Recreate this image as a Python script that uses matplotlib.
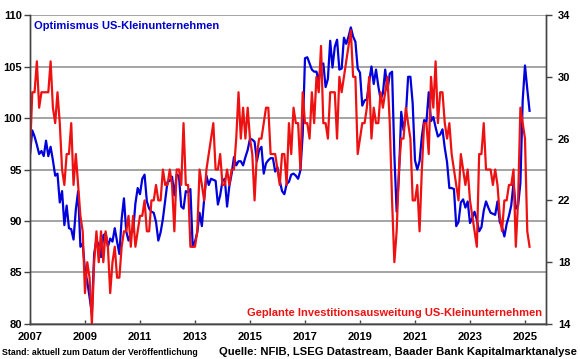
import numpy as np
import pandas as pd
import matplotlib
matplotlib.use("Agg")
import matplotlib.pyplot as plt

plt.rcParams['font.family'] = ['Liberation Sans', 'DejaVu Sans']
plt.rcParams['font.weight'] = 'bold'

# monthly, Dec 2006 .. Feb 2025
months = pd.date_range('2006-12-01', '2025-02-01', freq='MS')

# NFIB small business optimism index (left axis)
optimism = [96.5,
    98.8, 98.2, 97.4, 96.5, 96.8, 96.3, 97.8, 96.3, 97.2, 95.9, 94.4, 94.6,  # 2007
    91.8, 92.9, 89.6, 91.5, 89.3, 89.2, 88.2, 91.1, 92.9, 87.5, 87.8, 85.2,  # 2008
    84.1, 82.6, 81.0, 86.8, 88.2, 87.6, 86.5, 88.6, 88.8, 87.5, 88.3, 88.0,  # 2009
    89.3, 88.0, 86.8, 90.2, 92.2, 89.0, 88.1, 88.8, 89.0, 91.7, 93.2, 92.6,  # 2010
    94.1, 94.5, 91.9, 91.2, 90.9, 90.8, 89.9, 88.1, 88.9, 90.2, 92.0, 93.8,  # 2011
    93.9, 94.3, 92.5, 94.5, 94.4, 91.4, 91.2, 92.9, 92.8, 93.1, 87.5, 88.0,  # 2012
    88.9, 90.8, 89.5, 92.1, 94.4, 93.5, 94.1, 94.0, 93.9, 91.6, 92.5, 93.9,  # 2013
    94.1, 91.4, 93.4, 94.6, 96.2, 95.4, 95.8, 95.8, 95.4, 96.2, 96.9, 98.0,  # 2014
    97.9, 97.7, 95.8, 96.9, 97.2, 94.6, 95.6, 95.9, 96.1, 96.1, 94.8, 95.2,  # 2015
    93.9, 92.9, 92.6, 93.6, 93.8, 94.5, 94.6, 94.4, 94.1, 94.9, 98.4, 105.8,  # 2016
    105.9, 105.3, 104.7, 104.5, 104.5, 103.6, 105.2, 105.3, 103.0, 103.8, 107.5, 104.9,  # 2017
    106.9, 107.6, 104.7, 104.8, 107.8, 107.2, 107.9, 108.8, 107.9, 107.4, 104.8, 104.4,  # 2018
    101.2, 101.7, 101.8, 103.5, 105.0, 103.3, 104.7, 103.1, 101.8, 102.4, 104.7, 102.7,  # 2019
    104.3, 104.5, 96.4, 90.9, 94.4, 100.6, 98.8, 100.2, 104.0, 104.0, 101.4, 95.9,  # 2020
    95.0, 95.8, 98.2, 99.8, 99.6, 102.5, 99.7, 100.1, 99.1, 98.2, 98.4, 98.9,  # 2021
    97.1, 95.7, 93.2, 93.2, 93.1, 89.5, 89.9, 91.8, 92.1, 91.3, 91.9, 89.8,  # 2022
    90.3, 90.9, 90.1, 89.0, 89.4, 91.0, 91.9, 91.3, 90.8, 90.7, 90.6, 91.9,  # 2023
    89.9, 89.4, 88.5, 89.7, 90.5, 91.5, 93.7, 91.2, 91.5, 93.7, 101.7, 105.1,  # 2024
    102.8, 100.7]

# planned capital outlays, % (right axis)
capex_plans = [25,
    29, 29, 31, 28, 29, 29, 29, 29, 31, 28, 27, 29,  # 2007
    27, 24, 23, 25, 25, 27, 23, 25, 23, 21, 20, 16,  # 2008
    18, 17, 14, 18, 20, 18, 20, 18, 20, 19, 16, 18,  # 2009
    19, 17, 17, 19, 20, 20, 21, 19, 21, 19, 20, 21,  # 2010
    21, 22, 20, 20, 22, 22, 23, 22, 22, 24, 23, 23,  # 2011
    24, 23, 20, 24, 24, 23, 27, 23, 23, 19, 19, 19,  # 2012
    20, 24, 23, 22, 24, 25, 26, 27, 24, 24, 25, 23,  # 2013
    23, 24, 23, 24, 24, 26, 29, 26, 28, 26, 28, 26,  # 2014
    25, 22, 25, 26, 26, 27, 28, 28, 25, 25, 25, 24,  # 2015
    23, 25, 25, 23, 27, 25, 28, 27, 27, 24, 29, 27,  # 2016
    27, 26, 29, 27, 30, 29, 32, 27, 27, 26, 29, 29,  # 2017
    29, 26, 30, 29, 30, 31, 32, 33, 30, 30, 25, 26,  # 2018
    27, 27, 28, 30, 26, 28, 27, 27, 29, 28, 29, 30,  # 2019
    27, 22, 18, 20, 24, 26, 26, 28, 27, 26, 22, 22,  # 2020
    23, 20, 24, 27, 27, 25, 30, 28, 31, 27, 29, 29,  # 2021
    27, 26, 27, 25, 24, 23, 22, 25, 24, 23, 24, 22,  # 2022
    21, 20, 19, 25, 25, 27, 24, 24, 24, 23, 24, 23,  # 2023
    21, 20, 22, 22, 23, 23, 24, 19, 22, 28, 27, 26,  # 2024
    20, 19]

x_ticks = list(range(2007, 2026, 2))
left_ticks = [80, 85, 90, 95, 100, 105, 110]
right_ticks = [14, 18, 22, 26, 30, 34]

x = months.year + months.month / 12

fig = plt.figure(figsize=(5.8, 3.59), dpi=100)
ax = fig.add_axes([0.0517, 0.0975, 0.889, 0.8607])
ax2 = ax.twinx()

ax.plot(x, optimism, color='#0000dd', lw=1.6, zorder=3)
ax2.plot(x, capex_plans, color='#ee1111', lw=1.6)

ax.set_xlim(2007, 2025.75)
ax.set_ylim(80, 110)
ax2.set_ylim(14, 34)
ax.set_xticks(x_ticks)
ax.set_xticklabels([str(t) for t in x_ticks])
ax.set_yticks(left_ticks)
ax2.set_yticks(right_ticks)

ax.grid(axis='y', color='#8c8c8c', lw=1.1)
ax.set_axisbelow(True)

for a in (ax, ax2):
    a.spines['top'].set_visible(False)
    for s in ('left', 'right', 'bottom'):
        a.spines[s].set_color('#444444')
        a.spines[s].set_linewidth(1.0)
ax.tick_params(axis='y', direction='out', length=4, width=1, color='#444444',
               labelsize=8, pad=2)
ax2.tick_params(axis='y', direction='out', length=4, width=1, color='#444444',
                labelsize=8, pad=5)
ax.tick_params(axis='x', direction='in', length=3, width=1, color='#444444',
               labelsize=8, pad=6)

fig.text(34 / 580, 1 - 26 / 359, 'Optimismus US-Kleinunternehmen',
         color='#0000cc', fontsize=8, va='center', ha='left')
fig.text(542 / 580, 1 - 313 / 359, 'Geplante Investitionsausweitung US-Kleinunternehmen',
         color='#ee1111', fontsize=8, va='center', ha='right')
fig.text(2 / 580, 1 - 352.5 / 359, 'Stand: aktuell zum Datum der Veröffentlichung',
         fontsize=6.3, va='center', ha='left')
fig.text(577 / 580, 1 - 352 / 359, 'Quelle: NFIB, LSEG Datastream, Baader Bank Kapitalmarktanalyse',
         fontsize=8.1, va='center', ha='right')

fig.savefig('out.png', dpi=100)
